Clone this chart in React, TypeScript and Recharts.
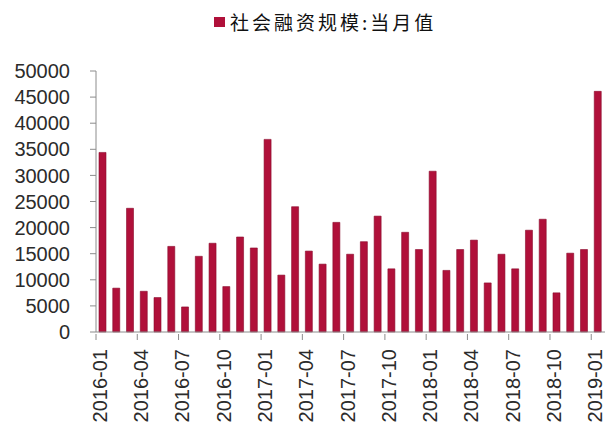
import { BarChart, Bar, XAxis, YAxis } from "recharts";

// 社会融资规模 当月值, 2016-01 .. 2019-01 (亿元)
const months = [
  "2016-01", "2016-02", "2016-03", "2016-04", "2016-05", "2016-06",
  "2016-07", "2016-08", "2016-09", "2016-10", "2016-11", "2016-12",
  "2017-01", "2017-02", "2017-03", "2017-04", "2017-05", "2017-06",
  "2017-07", "2017-08", "2017-09", "2017-10", "2017-11", "2017-12",
  "2018-01", "2018-02", "2018-03", "2018-04", "2018-05", "2018-06",
  "2018-07", "2018-08", "2018-09", "2018-10", "2018-11", "2018-12",
  "2019-01",
];

const tsfMonthly = [
  34400, 8400, 23700, 7800, 6600, 16400,
  4800, 14500, 17000, 8700, 18200, 16100,
  36900, 10900, 24000, 15500, 13000, 21000,
  14900, 17300, 22200, 12100, 19100, 15800,
  30800, 11800, 15800, 17600, 9400, 14900,
  12100, 19500, 21600, 7500, 15100, 15800,
  46100,
];

const yTicks = [0, 5000, 10000, 15000, 20000, 25000, 30000, 35000, 40000, 45000, 50000];

const data = months.map((month, i) => ({ month, value: tsfMonthly[i] }));

const W = 612;
const H = 423;
const LEFT = 96;
const RIGHT = 7;
const TOP = 71;
const X_AXIS_H = 91;
const BAND = (W - LEFT - RIGHT) / months.length;

const AXIS = "#8c8c8c";
const TEXT = "#2b2b2b";
const BAR = "#b0103a";
const FONT = "'Liberation Sans', Arial, sans-serif";

// tick mark sits on the category boundary, label on the category
function MonthTick(props: any) {
  const { x, y, payload } = props;
  const edge = x - BAND / 2;
  const tx = x - 3;
  const ty = y + 15;
  return (
    <g>
      <line x1={edge} x2={edge} y1={y} y2={y + 6} stroke={AXIS} strokeWidth={1} />
      <text
        x={tx}
        y={ty}
        transform={`rotate(-90, ${tx}, ${ty})`}
        textAnchor="end"
        dominantBaseline="central"
        fontSize={20}
        fontFamily={FONT}
        fill={TEXT}
      >
        {payload.value}
      </text>
    </g>
  );
}

export default function App() {
  return (
    <div style={{ position: "absolute", left: 0, top: 0, width: W, height: H, background: "#fff" }}>
      <div
        style={{
          position: "absolute",
          left: 214,
          top: 8,
          display: "flex",
          alignItems: "center",
          whiteSpace: "nowrap",
          fontFamily: "'Noto Sans CJK SC', sans-serif",
          fontSize: 19,
          letterSpacing: 3,
          color: "#111",
        }}
      >
        <span style={{ display: "inline-block", width: 11, height: 10, background: BAR, marginRight: 5 }} />
        <span>社会融资规模:当月值</span>
      </div>
      <BarChart
        width={W}
        height={H}
        data={data}
        margin={{ top: TOP, right: RIGHT, bottom: 0, left: 0 }}
        barCategoryGap="24%"
      >
        <XAxis
          dataKey="month"
          interval={2}
          height={X_AXIS_H}
          tickSize={0}
          tickLine={false}
          axisLine={{ stroke: AXIS }}
          tick={(p: any) => <MonthTick {...p} />}
        />
        <YAxis
          width={LEFT}
          domain={[0, 50000]}
          ticks={yTicks}
          interval={0}
          tickSize={6}
          tickMargin={20}
          axisLine={{ stroke: AXIS }}
          tickLine={{ stroke: AXIS }}
          tick={{ fontSize: 20, fontFamily: FONT, fill: TEXT }}
        />
        <Bar dataKey="value" fill={BAR} stroke="#8a0a2c" strokeWidth={0.6} barSize={7} isAnimationActive={false} />
      </BarChart>
    </div>
  );
}
